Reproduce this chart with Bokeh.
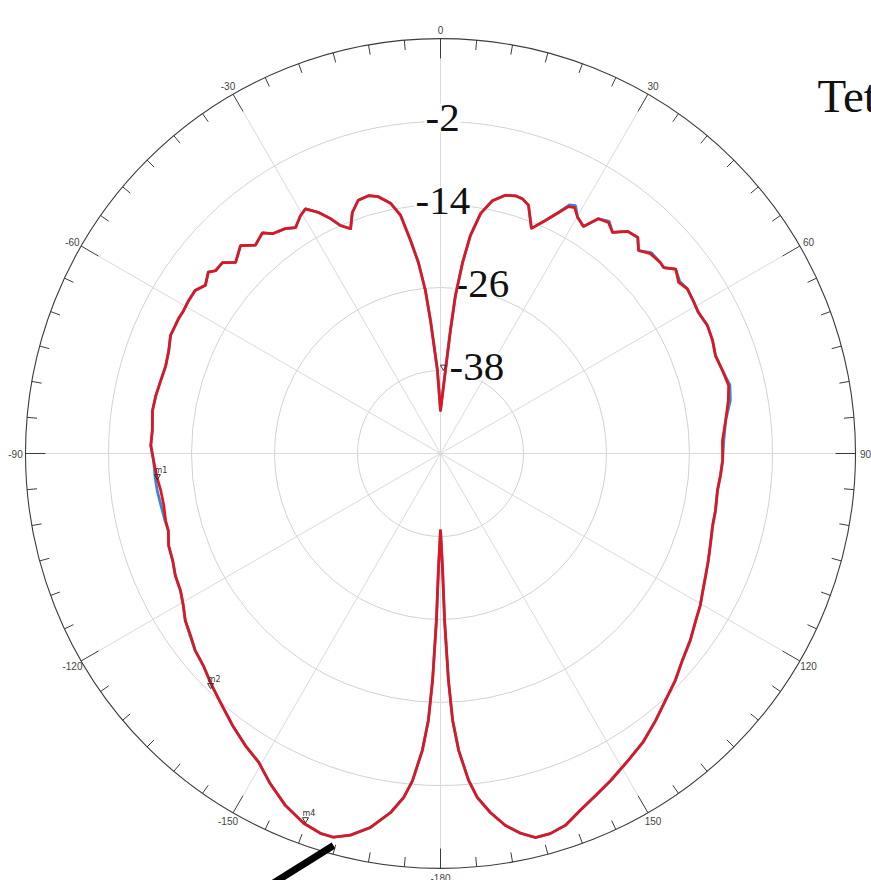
import numpy as np
from bokeh.plotting import figure
from bokeh.models import Range1d
from bokeh.core.properties import value
from bokeh.embed import file_html
from bokeh.resources import INLINE

# ---------------- data ----------------
angle_deg = [
    -180.0, -179.0, -178.6, -178.0, -177.4, -176.5, -175.1, -173.9, -172.1, -169.4,
    -166.7, -164.4, -162.5, -159.7, -156.2, -152.7, -149.5, -146.3, -142.6, -138.7,
    -135.4, -131.8, -128.8, -126.1, -123.2, -120.6, -117.8, -114.7, -111.8, -108.7,
    -105.8, -103.7, -100.6, -97.5, -95.0, -91.4, -88.4, -85.4, -81.5, -78.5,
    -75.4, -72.3, -69.3, -66.4, -62.7, -61.3, -58.7, -56.4, -54.4, -52.0,
    -50.9, -48.8, -47.0, -43.9, -41.6, -38.9, -37.4, -34.6, -32.7, -30.5,
    -28.9, -26.9, -25.1, -23.7, -21.8, -20.1, -18.0, -15.6, -13.6, -11.3,
    -9.5, -8.0, -6.6, -5.3, -4.3, -2.1, 0.0,
    3.4, 4.6, 5.4, 6.6, 7.8, 9.5, 11.6, 14.1, 16.2, 17.8,
    19.5, 22.0, 24.3, 26.1, 27.4, 28.6, 30.1, 32.2, 33.9, 36.0,
    37.9, 40.1, 42.4, 44.3, 46.4, 49.0, 50.2, 51.9, 54.3, 56.3,
    58.8, 61.3, 64.4, 67.4, 70.4, 73.6, 76.7, 79.6, 83.4, 87.4,
    91.4, 94.5, 97.6, 101.7, 104.8, 108.8, 111.8, 114.7, 117.6, 120.3,
    123.2, 126.8, 130.5, 134.0, 137.7, 141.2, 145.0, 148.5, 152.5, 155.6,
    158.6, 161.4, 163.9, 166.1, 168.1, 170.1, 172.1, 173.9, 175.1, 176.5,
    177.4, 178.0, 178.6, 179.0, 180.0,
]

gain_red = [
    -39.0, -33.5, -25.9, -17.2, -11.4, -7.0, -2.5, 0.0, 2.4, 5.0,
    6.7, 7.6, 7.6, 7.0, 5.6, 3.7, 1.8, 0.8, -0.5, -1.9,
    -2.9, -4.0, -4.5, -5.3, -5.9, -6.8, -7.5, -7.8, -8.3, -8.5,
    -9.1, -9.1, -9.3, -9.2, -8.9, -8.5, -8.1, -8.2, -7.9, -8.0,
    -8.2, -8.3, -8.0, -7.4, -7.4, -7.5, -7.4, -7.4, -8.2, -7.4,
    -8.1, -8.1, -9.5, -8.3, -9.7, -9.0, -10.0, -10.5, -11.2, -10.1,
    -9.6, -10.9, -12.5, -14.0, -15.0, -12.9, -11.5, -11.3, -11.8, -13.1,
    -15.1, -18.9, -22.2, -26.3, -30.7, -38.0, -43.8,
    -38.0, -32.2, -27.1, -22.2, -18.2, -14.8, -12.7, -11.5, -11.2, -11.3,
    -11.9, -14.9, -13.0, -11.2, -9.8, -9.5, -10.5, -11.2, -9.1, -8.7,
    -9.5, -8.0, -7.7, -9.0, -8.1, -7.9, -8.0, -6.8, -7.6, -7.1,
    -7.3, -7.5, -7.2, -7.4, -7.8, -7.5, -7.2, -7.7, -8.5, -9.2,
    -9.2, -9.4, -9.6, -9.4, -9.3, -8.8, -8.3, -7.8, -7.2, -6.5,
    -5.9, -4.9, -4.0, -2.8, -1.7, -0.4, 1.0, 2.0, 3.3, 4.3,
    5.4, 6.7, 7.2, 7.2, 6.1, 4.6, 2.4, 0.0, -2.6, -7.0,
    -11.4, -17.2, -25.9, -33.5, -39.0,
]

gain_blue = [
    -39.0, -33.5, -25.9, -17.2, -11.4, -7.0, -2.5, 0.0, 2.4, 5.0,
    6.7, 7.6, 7.6, 7.0, 5.6, 3.7, 1.8, 0.8, -0.5, -1.9,
    -2.9, -4.0, -4.5, -5.2, -5.9, -6.8, -7.5, -7.8, -8.3, -8.5,
    -9.1, -9.0, -8.9, -8.7, -8.6, -8.5, -8.1, -8.2, -7.9, -8.0,
    -8.2, -8.3, -8.0, -7.4, -7.4, -7.5, -7.4, -7.4, -8.2, -7.4,
    -8.1, -8.1, -9.5, -8.3, -9.7, -9.0, -10.0, -10.5, -11.2, -10.1,
    -9.6, -10.9, -12.5, -14.0, -15.0, -12.9, -11.5, -11.3, -11.8, -13.1,
    -15.1, -18.9, -22.2, -26.3, -30.7, -38.0, -43.8,
    -38.0, -32.2, -27.1, -22.2, -18.2, -14.8, -12.7, -11.5, -11.2, -11.3,
    -11.9, -14.9, -13.0, -11.2, -9.5, -9.2, -10.5, -11.2, -9.1, -8.5,
    -9.5, -8.0, -7.7, -9.0, -7.9, -7.9, -8.0, -6.8, -7.4, -7.1,
    -7.3, -7.5, -7.2, -7.4, -7.8, -7.5, -7.0, -7.4, -8.5, -9.0,
    -9.2, -9.4, -9.6, -9.4, -9.3, -8.8, -8.3, -7.8, -7.2, -6.5,
    -5.9, -4.9, -4.0, -2.8, -1.7, -0.4, 1.0, 2.0, 3.3, 4.3,
    5.4, 6.7, 7.2, 7.2, 6.1, 4.6, 2.4, 0.0, -2.6, -7.0,
    -11.4, -17.2, -25.9, -33.5, -39.0,
]

ring_values = [-38, -26, -14, -2]
ring_labels = ["-38", "-26", "-14", "-2"]
angle_ticks = [0, 30, 60, 90, 120, 150, 180, -150, -120, -90, -60, -30]
angle_tick_labels = ["0", "30", "60", "90", "120", "150", "-180",
                     "-150", "-120", "-90", "-60", "-30"]
marker_names = ["m1", "m2", "", "m4"]
marker_angles = [-95.2, -135.6, 2.0, -159.9]
marker_gains = [-8.9, -2.5, -37.9, 6.8]
title_text = "Tet"

# ---------------- scale ----------------
R_MIN, R_MAX = -50.0, 10.0
R_PX = 415.0


def to_r(db):
    return (np.asarray(db, dtype=float) - R_MIN) / (R_MAX - R_MIN) * R_PX


def to_xy(ang, db):
    r = to_r(db)
    a = np.radians(np.asarray(ang, dtype=float))
    return r * np.sin(a), r * np.cos(a)


p = figure(width=871, height=880,
           x_range=Range1d(-440, 431), y_range=Range1d(-427, 453),
           output_backend="svg", toolbar_location=None, min_border=0,
           x_axis_type=None, y_axis_type=None, outline_line_color=None)
p.background_fill_color = "white"
p.border_fill_color = "white"

# concentric grid rings
ring_r = to_r(ring_values)
p.circle(x=[0] * len(ring_r), y=[0] * len(ring_r), radius=ring_r,
         fill_color=None, line_color="#d2d2d2", line_width=1)

# radial grid lines every 30 deg
spoke = np.radians(np.arange(0, 360, 30))
p.segment(x0=np.zeros(len(spoke)), y0=np.zeros(len(spoke)),
          x1=(R_PX - 20) * np.sin(spoke), y1=(R_PX - 20) * np.cos(spoke),
          line_color="#dadada", line_width=1)

# outer circle
p.circle(x=[0], y=[0], radius=[R_PX], fill_color=None,
         line_color="#3c3c3c", line_width=1.1)

# ticks every 5 deg, long at 30 deg
tick_a = np.arange(-175, 181, 5)
tick_len = np.where(tick_a % 30 == 0, 20.0, 10.0)
ta = np.radians(tick_a)
p.segment(x0=R_PX * np.sin(ta), y0=R_PX * np.cos(ta),
          x1=(R_PX - tick_len) * np.sin(ta), y1=(R_PX - tick_len) * np.cos(ta),
          line_color="#3c3c3c", line_width=1)

# angle tick labels
la = np.radians(np.array(angle_ticks, dtype=float))
p.text(x=(R_PX + 10) * np.sin(la), y=(R_PX + 9) * np.cos(la),
       text=angle_tick_labels, text_align="center", text_baseline="middle",
       text_font=value("Liberation Sans"), text_font_size="10px",
       text_color="#444444")

# ring value labels (large serif, white background)
label_dx = [8, 13, -26, -16]
p.text(x=label_dx, y=ring_r + 4, text=ring_labels,
       text_align="left", text_baseline="alphabetic",
       text_font=value("Liberation Serif"), text_font_size="41px",
       text_color="#111111", background_fill_color="white", padding=1)

# curves
bx, by = to_xy(angle_deg, gain_blue)
p.line(bx, by, line_color="#3b86d6", line_width=2.8)
rx, ry = to_xy(angle_deg, gain_red)
p.line(rx, ry, line_color="#e0161e", line_width=2.7, line_join="round")

# markers
mx, my = to_xy(marker_angles, marker_gains)
p.scatter(mx, my + 3, marker="inverted_triangle", size=6,
          fill_color=None, line_color="#333333", line_width=1)
p.text(x=mx - 3, y=my + 4, text=marker_names, text_align="left",
       text_baseline="bottom", text_font=value("DejaVu Sans"),
       text_font_size="8px", text_color="#333333")

# partial title at right
p.text(x=[377], y=[358], text=[title_text], text_align="left",
       text_baseline="alphabetic", text_font=value("Liberation Serif"),
       text_font_size="47px", text_color="#111111")

# thick black pointer line
p.line([-107, -171], [-392, -432], line_color="black", line_width=7,
       line_cap="butt")

open("out.html", "w").write(file_html(p, INLINE))
